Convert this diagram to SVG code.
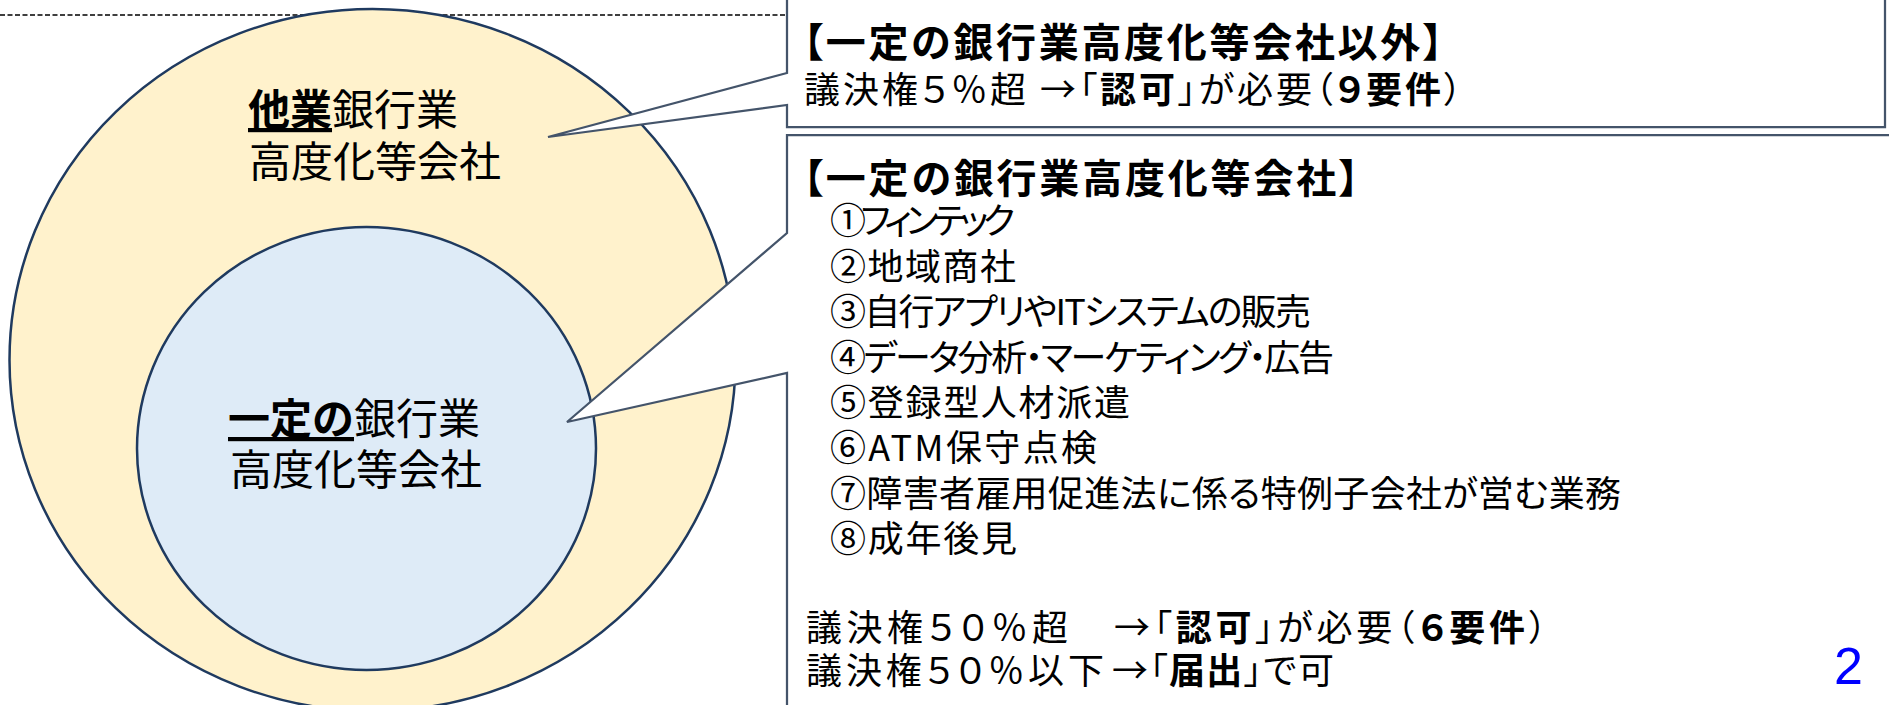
<svg xmlns="http://www.w3.org/2000/svg" width="1889" height="705" viewBox="0 0 1889 705">
<style>
text { font-family: "Noto Sans CJK JP", "Noto Sans", sans-serif; fill: #000; }
.lbl { font-size: 42px; }
.bx { font-feature-settings: "palt"; }
.ttl { font-size: 40px; font-weight: 700; }
.body { font-size: 36px; }
.b { font-weight: 700; }
.u { text-decoration: underline; }
.ell { stroke: #1F3A5F; stroke-width: 2.5; }
.callout { fill: #FFFFFF; stroke: #44546A; stroke-width: 2.25; stroke-linejoin: miter; }
.sep { stroke: #000; stroke-width: 1.5; stroke-dasharray: 5 2.5; fill: none; }
.pg { font-family: "Liberation Sans", Arial, sans-serif; font-size: 52px; fill: #0000FF; }
</style>

<g id="separator">
  <line class="sep" x1="0" y1="15" x2="787" y2="15"/>
</g>

<g id="node-other">
  <ellipse class="ell" cx="372.5" cy="360" rx="363" ry="351" fill="#FFF2CC"/>
  <text class="lbl" x="248" y="125"><tspan class="b u">他業</tspan>銀行業</text>
  <text class="lbl" x="249" y="177">高度化等会社</text>
</g>

<g id="node-certain">
  <ellipse class="ell" cx="366.5" cy="448.5" rx="229.5" ry="221.5" fill="#DEEBF7"/>
  <text class="lbl" x="228" y="434"><tspan class="b u">一定の</tspan>銀行業</text>
  <text class="lbl" x="230" y="485">高度化等会社</text>
</g>

<g id="callout-other">
  <path class="callout" d="M787,-5 L1885,-5 L1885,127 L787,127 L787,105 L548,137 L787,73 Z"/>
  <text class="bx ttl" x="803" y="57" textLength="640">【一定の銀行業高度化等会社以外】</text>
  <text class="bx body" x="804" y="103" textLength="658">議決権５％超 →「<tspan class="b">認可</tspan>」が必要（<tspan class="b">９要件</tspan>）</text>
</g>

<g id="callout-certain">
  <path class="callout" d="M787,135 L1900,135 L1900,720 L787,720 L787,373 L567,422 L787,233 Z"/>
  <text class="bx ttl" x="803" y="193" textLength="556">【一定の銀行業高度化等会社】</text>
  <text class="bx body" x="830" y="234" textLength="185">①フィンテック</text>
  <text class="bx body" x="830" y="280" textLength="186">②地域商社</text>
  <text class="bx body" x="830" y="325" textLength="481">③自行アプリやITシステムの販売</text>
  <text class="bx body" x="830" y="371" textLength="504">④データ分析・マーケティング・広告</text>
  <text class="bx body" x="830" y="416" textLength="300">⑤登録型人材派遣</text>
  <text class="bx body" x="830" y="461" textLength="267">⑥ATM保守点検</text>
  <text class="bx body" x="830" y="507" textLength="791">⑦障害者雇用促進法に係る特例子会社が営む業務</text>
  <text class="bx body" x="830" y="552" textLength="187">⑧成年後見</text>
  <text class="bx body" x="806" y="641" textLength="262">議決権５０％超</text>
  <text class="bx body" x="1114" y="641" textLength="433">→「<tspan class="b">認可</tspan>」が必要（<tspan class="b">６要件</tspan>）</text>
  <text class="bx body" x="806" y="684" textLength="298">議決権５０％以下</text>
  <text class="bx body" x="1112" y="684" textLength="222">→「<tspan class="b">届出</tspan>」で可</text>
</g>

<g id="page-number">
  <text class="pg" x="1834" y="684">2</text>
</g>
</svg>
